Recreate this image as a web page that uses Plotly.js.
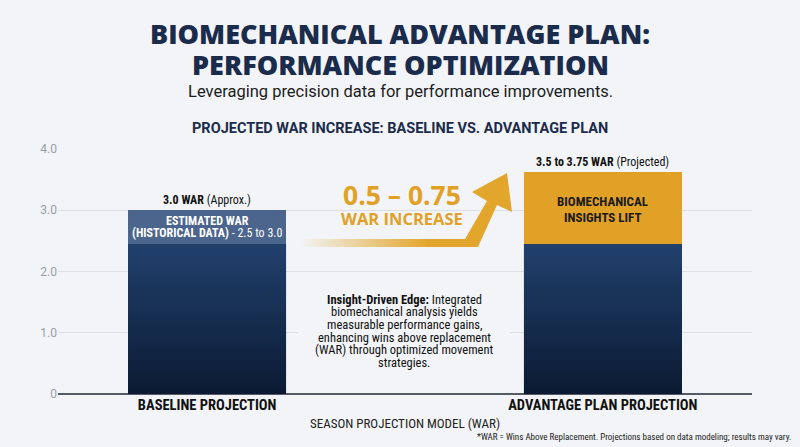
<!DOCTYPE html>
<html>
<head>
<meta charset="utf-8">
<script src="https://cdn.plot.ly/plotly-3.0.1.min.js"></script>
<style>
  html, body { margin: 0; padding: 0; background: #f2f4f7; }
  #chart { width: 800px; height: 447px; }
</style>
</head>
<body>
<div id="chart"></div>
<script>
// data
const categories = ['BASELINE PROJECTION', 'ADVANTAGE PLAN PROJECTION'];
const baseWar = [2.45, 2.45];       // dark navy part
const upperWar = [0.55, 1.17];      // estimated range / biomechanical lift
const topLabels = ['<b>3.0 WAR</b> (Approx.)', '<b>3.5 to 3.75 WAR</b> (Projected)'];
const segmentLines = [
  ['<b>ESTIMATED WAR</b>', '<b>(HISTORICAL DATA)</b> - 2.5 to 3.0'],
  ['<b>BIOMECHANICAL</b>', '<b>INSIGHTS LIFT</b>']
];
const noteLines = [
  '<b>Insight-Driven Edge:</b> Integrated',
  'biomechanical analysis yields',
  'measurable performance gains,',
  'enhancing wins above replacement',
  '(WAR) through optimized movement',
  'strategies.'
];
const yTickVals = [0, 1, 2, 3, 4];
const yTickText = ['0', '1.0', '2.0', '3.0', '4.0'];

const NAVY = '#16305a';
const SLATE = '#4c658c';
const GOLD = '#e1a127';
const INK = '#1b2b4b';
const BG = '#f2f4f7';
const COND = 'Roboto Condensed, Liberation Sans Narrow, Roboto, sans-serif';
const BAR_W = 0.4;

// plot area in pixels, used to place the decorative arrow and notes
const L = 58, R = 48, T = 149, B = 53;
const W = 800 - L - R, H = 447 - T - B;
function px(x) { return (x - L) / W; }
function py(y) { return (447 - B - y) / H; }

const traces = [
  {
    type: 'bar', x: categories, y: baseWar, width: BAR_W,
    marker: { color: NAVY, line: { width: 0 } },
    hoverinfo: 'skip'
  },
  {
    type: 'bar', x: categories, y: upperWar, width: BAR_W,
    marker: { color: [SLATE, GOLD], line: { width: 0 } },
    hoverinfo: 'skip'
  }
];

function note(x, y, text, font, extra) {
  return Object.assign({
    xref: 'paper', yref: 'paper', x: px(x), y: py(y),
    xanchor: 'center', yanchor: 'middle', borderpad: 0,
    text: text, showarrow: false, font: font
  }, extra || {});
}

const annotations = [];
categories.forEach((c, i) => {
  const total = baseWar[i] + upperWar[i];
  annotations.push({
    x: c, y: total, xref: 'x', yref: 'y', xanchor: 'center', yanchor: 'bottom', yshift: 1,
    text: topLabels[i], showarrow: false,
    font: { family: COND, size: 12, color: '#111' }
  });
  segmentLines[i].forEach((line, k) => {
    annotations.push({
      x: c, y: total, xref: 'x', yref: 'y', xanchor: 'center', yanchor: 'middle',
      yshift: i === 0 ? -11 - 12 * k : -29 - 16 * k, borderpad: 0,
      text: line, showarrow: false,
      font: { family: COND, size: i === 0 ? 12 : 13, color: i === 0 ? '#ffffff' : '#1a1a1a' }
    });
  });
});

// increase callout
annotations.push(note(402, 194.5, '<b>0.5 – 0.75</b>',
  { family: 'Open Sans, sans-serif', size: 26.5, color: GOLD }));
annotations.push(note(402, 218.5, '<b>WAR INCREASE</b>',
  { family: 'Open Sans, sans-serif', size: 16.5, color: GOLD }));

// middle note, one line at a time for the tight leading
noteLines.forEach((line, k) => {
  annotations.push(note(404, 299 + 12.7 * k, line,
    { family: COND, size: 12.5, color: '#111' }));
});

// titles
annotations.push(note(400, 33, 'BIOMECHANICAL ADVANTAGE PLAN:',
  { family: 'Open Sans, sans-serif', size: 27, weight: 800, color: INK }));
annotations.push(note(400, 64, 'PERFORMANCE OPTIMIZATION',
  { family: 'Open Sans, sans-serif', size: 27, weight: 800, color: INK }));
annotations.push(note(400, 91, 'Leveraging precision data for performance improvements.',
  { family: 'Roboto, sans-serif', size: 16.5, color: '#1c1c1c' }));
annotations.push(note(400, 129, '<b>PROJECTED WAR INCREASE: BASELINE VS. ADVANTAGE PLAN</b>',
  { family: 'Roboto, sans-serif', size: 14.5, color: INK }));
annotations.push(note(792, 437,
  '*WAR = Wins Above Replacement. Projections based on data modeling; results may vary.',
  { family: COND, size: 9, color: '#222' }, { xanchor: 'right' }));

// decorative arrow as an svg image with a fading tail
const arrowSvg =
  '<svg xmlns="http://www.w3.org/2000/svg" width="230" height="90" viewBox="0 0 230 90">' +
  '<defs><linearGradient id="g" x1="0" y1="0" x2="1" y2="0">' +
  '<stop offset="0" stop-color="#e3a62c" stop-opacity="0"/>' +
  '<stop offset="0.6" stop-color="#e3a62c" stop-opacity="1"/>' +
  '<stop offset="1" stop-color="#e3a62c" stop-opacity="1"/></linearGradient></defs>' +
  '<polygon fill="url(#g)" points="10,74 175,74 197,36 182,27 217,8 222,47 207,40 188,82 10,82"/>' +
  '</svg>';

// vertical shading for the navy part of each bar, placed on the data axes
const shadeSvg =
  '<svg xmlns="http://www.w3.org/2000/svg" width="10" height="100" viewBox="0 0 10 100" preserveAspectRatio="none">' +
  '<defs><linearGradient id="s" x1="0" y1="0" x2="0" y2="1">' +
  '<stop offset="0" stop-color="#21416d"/>' +
  '<stop offset="1" stop-color="#0b1a32"/></linearGradient></defs>' +
  '<rect width="10" height="100" fill="url(#s)"/></svg>';
const shadeSrc = 'data:image/svg+xml;charset=utf-8,' + encodeURIComponent(shadeSvg);

const images = [{
  source: 'data:image/svg+xml;charset=utf-8,' + encodeURIComponent(arrowSvg),
  xref: 'paper', yref: 'paper',
  x: px(290), y: py(165), sizex: 230 / W, sizey: 90 / H,
  xanchor: 'left', yanchor: 'top', sizing: 'stretch', layer: 'above'
}];
baseWar.forEach((v, i) => {
  images.push({
    source: shadeSrc, xref: 'x', yref: 'y',
    x: i - BAR_W / 2, y: v, sizex: BAR_W, sizey: v,
    xanchor: 'left', yanchor: 'top', sizing: 'stretch', layer: 'above'
  });
});

const layout = {
  width: 800, height: 447,
  margin: { l: L, r: R, t: T, b: B, pad: 0 },
  paper_bgcolor: BG,
  plot_bgcolor: BG,
  barmode: 'stack',
  showlegend: false,
  xaxis: {
    type: 'category',
    range: [-0.377, 1.377],
    showgrid: false, zeroline: false, showline: false,
    ticks: '', fixedrange: true,
    tickfont: { family: COND, size: 14.5, color: '#111', weight: 'bold' },
    title: {
      text: 'SEASON PROJECTION MODEL (WAR)', standoff: 6,
      font: { family: COND, size: 13, color: '#222' }
    }
  },
  yaxis: {
    range: [0, 4], tickvals: yTickVals, ticktext: yTickText,
    showgrid: true, gridcolor: '#dcdfe4', gridwidth: 1,
    zeroline: true, zerolinecolor: '#555b66', zerolinewidth: 1.5,
    showline: false, ticks: '',
    tickfont: { family: 'Roboto, sans-serif', size: 12, color: '#9a9ea6' },
    fixedrange: true
  },
  shapes: [{
    // clear patch behind the middle note so the gridlines break there
    type: 'rect', xref: 'paper', yref: 'paper',
    x0: px(298), x1: px(510), y0: py(374), y1: py(290),
    fillcolor: BG, line: { width: 0 }, layer: 'above'
  }],
  annotations: annotations,
  images: images
};

Plotly.newPlot('chart', traces, layout, { displayModeBar: false, staticPlot: true });
</script>
</body>
</html>
